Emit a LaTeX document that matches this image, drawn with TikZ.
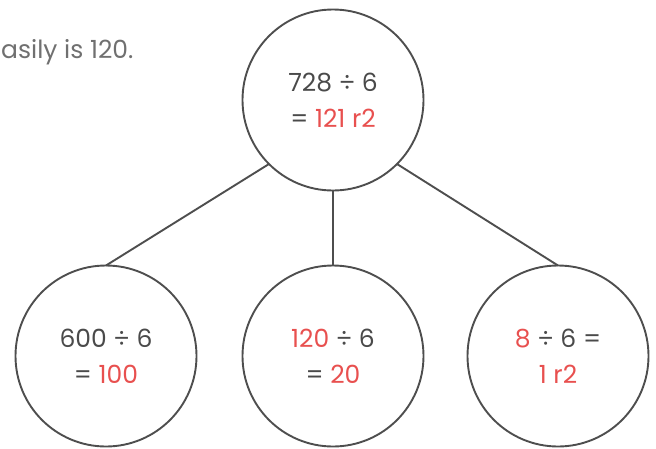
\documentclass[tikz,border=0pt]{standalone}
\usepackage{fontspec}
\setmainfont{Poppins}
\usetikzlibrary{positioning}
\definecolor{cInk}{HTML}{4A4A4A}
\definecolor{cEdge}{HTML}{4E4E4E}
\definecolor{cRed}{HTML}{E8504F}
\definecolor{cNote}{HTML}{707070}
\begin{document}
\begin{tikzpicture}[
  x=1pt, y=1pt,
  font=\fontsize{25}{36}\selectfont,
  node distance=75pt,
  part/.style={circle, draw=cEdge, line width=1.9pt, minimum size=181pt,
               inner sep=0pt, outer sep=0pt, align=center, text=cInk},
  link/.style={draw=cEdge, line width=1.9pt},
  note/.style={font=\fontsize{25}{28}\selectfont, text=cNote, anchor=west, inner sep=0pt},
]
\useasboundingbox (0,0) rectangle (656,-448);
% ---- leftover text from the line above ----
\node[note] (intro) at (1,-52) {asily is 120.};

% ---- whole division ----
\node[part] (whole) at (333,-100) {728 ÷ 6\\= \textcolor{cRed}{121 r2}};

% ---- the three parts ----
\node[part, below=of whole] (tens) {\textcolor{cRed}{120} ÷ 6\\= \textcolor{cRed}{20}};
\node[part, left=46pt of tens] (hund) {600 ÷ 6\\= \textcolor{cRed}{100}};
\node[part, right=44pt of tens] (ones) {\textcolor{cRed}{8} ÷ 6 =\\\textcolor{cRed}{1 r2}};

\draw[link] (whole.south west) -- (hund.north);
\draw[link] (whole) -- (tens);
\draw[link] (whole.south east) -- (ones.north);
\end{tikzpicture}
\end{document}
